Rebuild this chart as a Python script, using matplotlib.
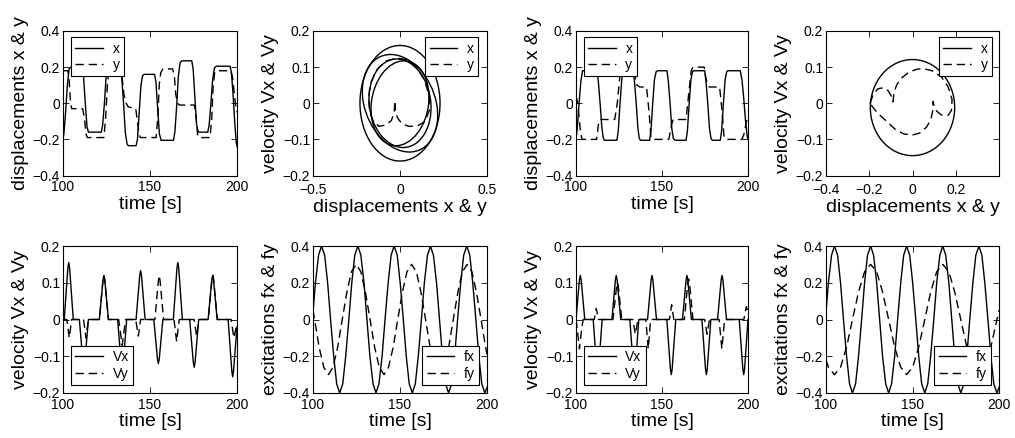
import numpy as np
import matplotlib
matplotlib.use('Agg')
import matplotlib.pyplot as plt
import matplotlib.transforms as mtransforms
from matplotlib.patches import Ellipse
from matplotlib.lines import Line2D
from matplotlib.ticker import FuncFormatter

plt.rcParams['font.family'] = ['Liberation Sans', 'DejaVu Sans']

# ---------------- data ----------------
# column 1, displacements (t, value)
disp1_x = [(100, -0.2), (100.5, -0.17), (101.5, -0.05), (102.5, 0.1), (103.5, 0.19), (104.5, 0.2),
           (111, 0.2), (111.8, 0.15), (112.8, 0.0), (113.8, -0.13), (114.6, -0.16), (122, -0.16),
           (122.8, -0.12), (123.8, 0.0), (124.8, 0.15), (125.8, 0.2), (133, 0.2), (133.8, 0.14),
           (134.8, 0.0), (135.8, -0.16), (136.8, -0.225), (137.5, -0.235), (142, -0.235), (142.8, -0.2),
           (143.8, -0.05), (144.8, 0.1), (145.8, 0.155), (146.8, 0.16), (152.6, 0.16), (153.4, 0.12),
           (154.4, -0.03), (155.4, -0.17), (156.4, -0.205), (163.5, -0.205), (164.3, -0.16), (165.3, -0.02),
           (166.3, 0.15), (167.3, 0.225), (168.3, 0.235), (174, 0.235), (174.8, 0.19), (175.8, 0.03),
           (176.8, -0.12), (177.8, -0.16), (183.2, -0.16), (184, -0.12), (185, 0.0), (186, 0.13),
           (187, 0.195), (188, 0.205), (196, 0.205), (196.8, 0.17), (197.8, 0.04), (198.8, -0.12),
           (199.6, -0.22), (200, -0.24)]
disp1_y = [(100, 0.18), (102.8, 0.18), (103.6, 0.12), (104.3, 0.0), (105, -0.03), (111.3, -0.03),
           (112.3, -0.08), (113.2, -0.17), (114, -0.19), (123.5, -0.19), (124.5, -0.08), (125.5, 0.1),
           (126.3, 0.18), (133, 0.18), (134, 0.14), (135, 0.05), (136.3, 0.0), (137.5, -0.02),
           (141.8, -0.03), (142.8, -0.1), (143.6, -0.17), (144.5, -0.19), (153.5, -0.19), (154.5, -0.08),
           (155.3, 0.1), (156.2, 0.17), (157.5, 0.19), (163, 0.19), (164, 0.15), (164.8, 0.05),
           (165.8, 0.0), (167, -0.01), (175.5, -0.01), (176.5, -0.08), (177.3, -0.17), (178, -0.19),
           (184.5, -0.19), (185.5, -0.08), (186.3, 0.1), (187.2, 0.17), (188, 0.18), (196.5, 0.18),
           (197.5, 0.14), (198.5, 0.05), (199.3, -0.02), (200, -0.05)]

# column 3, displacements
disp2_x = [(100, -0.2), (100.6, -0.15), (101.8, 0.0), (102.8, 0.12), (103.8, 0.18), (112.2, 0.18),
           (113, 0.12), (114, 0.0), (115, -0.13), (115.8, -0.19), (116.5, -0.205), (123.8, -0.205),
           (124.6, -0.15), (125.6, 0.0), (126.6, 0.13), (127.5, 0.18), (133.2, 0.18), (134, 0.12),
           (135, 0.0), (136, -0.14), (136.8, -0.195), (137.5, -0.205), (142.8, -0.205), (143.6, -0.15),
           (144.6, 0.0), (145.6, 0.13), (146.6, 0.175), (147.5, 0.18), (152.9, 0.18), (153.7, 0.12),
           (154.7, 0.0), (155.7, -0.14), (156.6, -0.195), (157.6, -0.205), (164, -0.205), (164.8, -0.15),
           (165.8, 0.0), (166.8, 0.13), (167.7, 0.175), (168.4, 0.18), (174.8, 0.18), (175.6, 0.12),
           (176.6, 0.0), (177.6, -0.14), (178.5, -0.195), (179.3, -0.205), (183.9, -0.205), (184.7, -0.15),
           (185.7, 0.0), (186.7, 0.13), (187.6, 0.175), (188.4, 0.18), (195.5, 0.18), (196.5, 0.13),
           (197.5, 0.03), (198.5, -0.09), (199.5, -0.18), (200, -0.2)]
disp2_y = [(100, 0.04), (101, 0.0), (102.5, -0.15), (103.5, -0.2), (112, -0.2), (113, -0.12),
           (113.8, -0.09), (122.5, -0.09), (124, 0.0), (125.5, 0.15), (126.5, 0.19), (133, 0.19),
           (134.5, 0.14), (135.5, 0.1), (137, 0.09), (141, 0.09), (142.5, -0.05), (143.5, -0.18),
           (144.5, -0.2), (154, -0.2), (155.5, -0.12), (156.5, -0.09), (164, -0.09), (165.5, 0.05),
           (167, 0.18), (168, 0.2), (174.5, 0.2), (175.5, 0.14), (176.5, 0.1), (177.5, 0.09),
           (183.5, 0.09), (185, -0.05), (186, -0.18), (187, -0.2), (196.5, -0.2), (198, -0.16),
           (199, -0.1), (200, -0.09)]

# column 1, velocities
vel1_x = [(100.0, 0.0), (100.7, 0.0), (102.8, 0.14), (103.3, 0.155), (103.8, 0.14), (105.9, 0.0),
          (109.4, 0.0), (111.5, -0.117), (112.0, -0.13), (112.5, -0.117), (114.6, 0.0),
          (120.9, 0.0), (123.0, 0.108), (123.5, 0.12), (124.0, 0.108), (126.1, 0.0),
          (131.4, 0.0), (133.5, -0.126), (134.0, -0.14), (134.5, -0.126), (136.6, 0.0),
          (142.0, 0.0), (144.1, 0.12), (144.6, 0.133), (145.1, 0.12), (147.2, 0.0),
          (152.2, 0.0), (154.3, -0.108), (154.8, -0.12), (155.3, -0.108), (157.4, 0.0),
          (163.4, 0.0), (165.5, 0.14), (166.0, 0.155), (166.5, 0.14), (168.6, 0.0),
          (172.8, 0.0), (174.9, -0.117), (175.4, -0.13), (175.9, -0.117), (178.0, 0.0),
          (183.4, 0.0), (185.5, 0.108), (186.0, 0.12), (186.5, 0.108), (188.6, 0.0),
          (194.9, 0.0), (197.0, -0.14), (197.5, -0.156), (198.0, -0.14), (200.0, -0.02)]
vel1_y = [(100.0, 0.0), (102.2, 0.0), (103.6, -0.05), (105.0, 0.0),
          (111.8, 0.0), (113.2, -0.05), (114.6, 0.0),
          (120.9, 0.0), (123.0, 0.108), (123.5, 0.12), (124.0, 0.108), (126.1, 0.0),
          (132.0, 0.0), (134.0, -0.07), (136.0, 0.0),
          (141.8, 0.0), (143.3, -0.045), (144.6, 0.0),
          (152.8, 0.0), (154.8, 0.105), (155.3, 0.12), (155.8, 0.105), (157.8, 0.0),
          (163.8, 0.0), (165.3, -0.06), (166.8, 0.0),
          (175.3, 0.0), (176.8, -0.045), (178.2, 0.0),
          (183.5, 0.0), (185.6, 0.108), (186.1, 0.12), (186.6, 0.108), (188.7, 0.0),
          (196.6, 0.0), (198.2, -0.05), (200.0, -0.01)]

# column 3, velocities
vel2_x = [(100.0, 0.0), (102.0, 0.108), (102.5, 0.12), (103.0, 0.108), (105.1, 0.0),
          (110.0, 0.0), (112.1, -0.135), (112.6, -0.15), (113.1, -0.135), (115.2, 0.0),
          (120.9, 0.0), (122.9, 0.108), (123.4, 0.12), (123.9, 0.108), (126.0, 0.0),
          (131.3, 0.0), (133.4, -0.135), (133.9, -0.15), (134.4, -0.135), (136.5, 0.0),
          (141.6, 0.0), (143.7, 0.108), (144.2, 0.12), (144.7, 0.108), (146.8, 0.0),
          (152.8, 0.0), (154.9, -0.135), (155.4, -0.15), (155.9, -0.135), (158.0, 0.0),
          (161.9, 0.0), (164.0, 0.108), (164.5, 0.12), (165.0, 0.108), (167.1, 0.0),
          (173.2, 0.0), (175.3, -0.135), (175.8, -0.15), (176.3, -0.135), (178.4, 0.0),
          (182.3, 0.0), (184.4, 0.108), (184.9, 0.12), (185.4, 0.108), (187.5, 0.0),
          (194.9, 0.0), (197.0, -0.135), (197.5, -0.15), (198.0, -0.135), (200.0, 0.0)]
vel2_y = [(100.0, 0.0), (100.6, -0.02), (102.0, -0.08), (103.4, -0.02), (104.2, 0.0),
          (110.6, 0.0), (111.8, 0.03), (113.0, 0.0),
          (121.5, 0.0), (123.6, 0.09), (124.1, 0.1), (124.6, 0.09), (126.6, 0.0),
          (133.0, 0.0), (134.5, -0.04), (136.0, 0.0),
          (140.6, 0.0), (142.0, -0.08), (143.4, 0.0),
          (154.3, 0.0), (155.6, 0.04), (156.9, 0.0),
          (163.0, 0.0), (165.0, 0.1), (165.5, 0.11), (166.0, 0.1), (168.0, 0.0),
          (174.8, 0.0), (176.2, -0.04), (177.6, 0.0),
          (183.2, 0.0), (184.8, -0.08), (186.4, 0.0),
          (197.6, 0.0), (199.0, 0.035), (200.0, 0.02)]

# excitations
exc_fx = [(100.0, 0.04), (101.4, 0.2), (103.2, 0.35), (104.9, 0.4), (106.7, 0.35), (108.4, 0.2),
          (110.1, 0.0), (111.9, -0.2), (113.6, -0.35), (115.3, -0.4), (117.1, -0.35), (118.8, -0.2),
          (120.6, 0.0), (122.3, 0.2), (124.0, 0.35), (125.8, 0.4), (127.5, 0.35), (129.3, 0.2),
          (131.0, 0.0), (132.7, -0.2), (134.5, -0.35), (136.2, -0.4), (137.9, -0.35), (139.7, -0.2),
          (141.4, 0.0), (143.2, 0.2), (144.9, 0.35), (146.6, 0.4), (148.4, 0.35), (150.1, 0.2),
          (151.9, 0.0), (153.6, -0.2), (155.3, -0.35), (157.1, -0.4), (158.8, -0.35), (160.5, -0.2),
          (162.3, 0.0), (164.0, 0.2), (165.8, 0.35), (167.5, 0.4), (169.2, 0.35), (171.0, 0.2),
          (172.7, 0.0), (174.4, -0.2), (176.2, -0.35), (177.9, -0.4), (179.7, -0.35), (181.4, -0.2),
          (183.1, 0.0), (184.9, 0.2), (186.6, 0.35), (188.4, 0.4), (190.1, 0.35), (191.8, 0.2),
          (193.6, 0.0), (195.3, -0.2), (197.0, -0.35), (198.8, -0.4), (200.0, -0.37)]
exc1_fy = [(100.0, 0.05), (100.9, 0.0), (103.5, -0.15), (106.2, -0.26), (108.9, -0.3), (111.5, -0.26),
           (114.2, -0.15), (116.8, 0.0), (119.5, 0.15), (122.1, 0.26), (124.8, 0.3), (127.5, 0.26),
           (130.1, 0.15), (132.8, 0.0), (135.4, -0.15), (138.1, -0.26), (140.8, -0.3), (143.4, -0.26),
           (146.1, -0.15), (148.7, 0.0), (151.4, 0.15), (154.0, 0.26), (156.7, 0.3), (159.4, 0.26),
           (162.0, 0.15), (164.7, 0.0), (167.3, -0.15), (170.0, -0.26), (172.7, -0.3), (175.3, -0.26),
           (178.0, -0.15), (180.6, 0.0), (183.3, 0.15), (185.9, 0.26), (188.6, 0.3), (191.3, 0.26),
           (193.9, 0.15), (196.6, 0.0), (199.2, -0.15), (200.0, -0.19)]
exc2_fy = [(100.0, -0.22), (101.4, -0.26), (104.9, -0.3), (108.4, -0.26), (111.9, -0.15), (115.3, 0.0),
           (118.8, 0.15), (122.3, 0.26), (125.8, 0.3), (129.3, 0.26), (132.7, 0.15), (136.2, 0.0),
           (139.7, -0.15), (143.2, -0.26), (146.6, -0.3), (150.1, -0.26), (153.6, -0.15), (157.1, 0.0),
           (160.5, 0.15), (164.0, 0.26), (167.5, 0.3), (171.0, 0.26), (174.4, 0.15), (177.9, 0.0),
           (181.4, -0.15), (184.9, -0.26), (188.4, -0.3), (191.8, -0.26), (195.3, -0.15), (198.8, 0.0),
           (200.0, 0.05)]

# phase portraits: x-loops as ellipses (centre x, centre v, width, height, shear)
phase1_loops = [(0.0, 0.0, 0.46, 0.32, 0.0),
                (0.0, 0.0, 0.42, 0.27, -0.4),
                (0.0, 0.0, 0.355, 0.245, -0.15),
                (0.0, 0.0, 0.33, 0.235, 0.2)]
phase2_loops = [(0.0, -0.012, 0.39, 0.266, 0.0)]
phase1_y = [(-0.03, 0.0), (-0.034, -0.028), (-0.05, -0.048), (-0.08, -0.06), (-0.12, -0.064),
            (-0.155, -0.05), (-0.175, -0.02), (-0.18, 0.02), (-0.165, 0.06), (-0.13, 0.095),
            (-0.08, 0.117), (-0.02, 0.125), (0.04, 0.121), (0.095, 0.1), (0.14, 0.065), (0.168, 0.02),
            (0.168, -0.02), (0.145, -0.05), (0.1, -0.063), (0.05, -0.064), (0.01, -0.056),
            (-0.015, -0.04), (-0.026, -0.02), (-0.03, 0.0)]
phase2_y = [(-0.197, 0.0), (-0.18, 0.026), (-0.16, 0.04), (-0.135, 0.043), (-0.113, 0.035),
            (-0.098, 0.02), (-0.09, 0.004), (-0.086, 0.03), (-0.072, 0.052), (-0.05, 0.07),
            (-0.015, 0.087), (0.02, 0.094), (0.05, 0.096), (0.09, 0.09), (0.134, 0.073),
            (0.165, 0.045), (0.183, 0.01), (0.18, -0.02), (0.165, -0.033), (0.135, -0.033),
            (0.112, -0.022), (0.1, -0.008), (0.095, 0.005), (0.094, -0.02), (0.085, -0.045),
            (0.065, -0.066), (0.035, -0.082), (0.0, -0.088), (-0.04, -0.085), (-0.08, -0.072),
            (-0.12, -0.05), (-0.16, -0.028), (-0.185, -0.01), (-0.197, 0.0)]

# ticks
time_ticks = [100, 150, 200]
ticks_04 = [-0.4, -0.2, 0, 0.2, 0.4]
ticks_02 = [-0.2, -0.1, 0, 0.1, 0.2]
ticks_05 = [-0.5, 0, 0.5]
ticks_phase2 = [-0.4, -0.2, 0, 0.2]

LW = 1.0
DASH = (0, (6, 3.5))


def tick_fmt(v, pos):
    if abs(v) < 1e-9:
        return '0'
    return f'{v:g}'.replace('-', '\u2212')


def style(ax, xlim, xticks, ylim, yticks, xlabel, ylabel, xpad=3.5):
    ax.set_xlim(xlim)
    ax.set_xticks(xticks)
    ax.set_ylim(ylim)
    ax.set_yticks(yticks)
    ax.xaxis.set_major_formatter(FuncFormatter(tick_fmt))
    ax.yaxis.set_major_formatter(FuncFormatter(tick_fmt))
    ax.tick_params(direction='in', length=4, width=0.6, top=True, right=True, labelsize=10)
    ax.tick_params(axis='x', pad=xpad)
    ax.tick_params(axis='y', pad=2)
    for s in ax.spines.values():
        s.set_linewidth(0.8)
    ax.set_xlabel(xlabel, fontsize=14, labelpad=1)
    ax.set_ylabel(ylabel, fontsize=14, labelpad=3)


def add_legend(ax, labels, loc, anchor):
    h = [Line2D([], [], color='k', lw=LW), Line2D([], [], color='k', lw=LW, ls=DASH)]
    leg = ax.legend(h, labels, loc=loc, bbox_to_anchor=anchor, borderaxespad=0,
                    fontsize=10, handlelength=2.0, handletextpad=0.7, labelspacing=0.2,
                    borderpad=0.3, fancybox=False, framealpha=1, edgecolor='k')
    leg.get_frame().set_linewidth(0.8)


def plot_series(ax, pts, dashed=False):
    a = np.array(pts)
    ax.plot(a[:, 0], a[:, 1], color='k', lw=LW, ls=DASH if dashed else '-')


def plot_loops(ax, loops):
    for cx, cy, w, h, k in loops:
        shear = mtransforms.Affine2D(np.array([[1.0, k, 0.0], [0.0, 1.0, 0.0], [0.0, 0.0, 1.0]]))
        e = Ellipse((cx, cy), w, h, fill=False, edgecolor='k', lw=LW)
        e.set_transform(shear + ax.transData)
        ax.add_patch(e)


W, H = 1015, 438
fig = plt.figure(figsize=(W / 100, H / 100), dpi=100)

col_left = [63, 313, 576, 826]
col_width = [174, 174, 172, 173]
row_top = [31, 246]
row_height = [144.5, 147]

axes = [[None] * 4 for _ in range(2)]
for r in range(2):
    for c in range(4):
        axes[r][c] = fig.add_axes([col_left[c] / W, 1 - (row_top[r] + row_height[r]) / H,
                                   col_width[c] / W, row_height[r] / H])

# top row
for c, (dx, dy) in [(0, (disp1_x, disp1_y)), (2, (disp2_x, disp2_y))]:
    ax = axes[0][c]
    plot_series(ax, dx)
    plot_series(ax, dy, dashed=True)
    style(ax, (100, 200), time_ticks, (-0.4, 0.4), ticks_04, 'time [s]', 'displacements x & y')
    add_legend(ax, ['x', 'y'], 'upper left', (0.045, 0.956))

ax = axes[0][1]
plot_loops(ax, phase1_loops)
plot_series(ax, phase1_y, dashed=True)
style(ax, (-0.5, 0.5), ticks_05, (-0.2, 0.2), ticks_02, 'displacements x & y', 'velocity Vx & Vy',
      xpad=5.5)
add_legend(ax, ['x', 'y'], 'upper right', (0.95, 0.956))

ax = axes[0][3]
plot_loops(ax, phase2_loops)
plot_series(ax, phase2_y, dashed=True)
style(ax, (-0.4, 0.4), ticks_phase2, (-0.2, 0.2), ticks_02, 'displacements x & y', 'velocity Vx & Vy',
      xpad=5.5)
add_legend(ax, ['x', 'y'], 'upper right', (0.96, 0.956))

# bottom row
for c, (vx, vy) in [(0, (vel1_x, vel1_y)), (2, (vel2_x, vel2_y))]:
    ax = axes[1][c]
    plot_series(ax, vx)
    plot_series(ax, vy, dashed=True)
    style(ax, (100, 200), time_ticks, (-0.2, 0.2), ticks_02, 'time [s]', 'velocity Vx & Vy')
    add_legend(ax, ['Vx', 'Vy'], 'lower left', (0.045, 0.054))

for c, fy in [(1, exc1_fy), (3, exc2_fy)]:
    ax = axes[1][c]
    plot_series(ax, exc_fx)
    plot_series(ax, fy, dashed=True)
    style(ax, (100, 200), time_ticks, (-0.4, 0.4), ticks_04, 'time [s]', 'excitations fx & fy')
    add_legend(ax, ['fx', 'fy'], 'lower right', (0.955, 0.054))

fig.savefig('out.png', dpi=100)
